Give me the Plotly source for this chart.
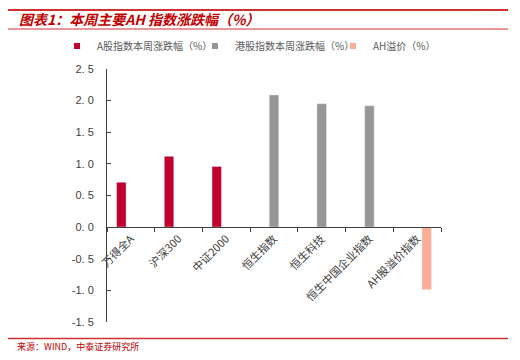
import plotly.graph_objects as go

categories = ["万得全A", "沪深300", "中证2000", "恒生指数", "恒生科技", "恒生中国企业指数", "AH股溢价指数"]
a_share = [0.71, 1.12, 0.96, None, None, None, None]
hk_share = [None, None, None, 2.09, 1.95, 1.92, None]
ah_premium = [None, None, None, None, None, None, -0.99]
y_ticks = [-1.5, -1.0, -0.5, 0.0, 0.5, 1.0, 1.5, 2.0, 2.5]
y_labels = ["-1. 5", "-1. 0", "-0. 5", "0. 0", "0. 5", "1. 0", "1. 5", "2. 0", "2. 5"]

names = ["A股指数本周涨跌幅（%）", "港股指数本周涨跌幅（%）", "AH溢价（%）"]
colors = ["#C00030", "#969696", "#FAAE98"]
legend_ids = ["legend", "legend2", "legend3"]
legend_x = [57, 195, 333]

fig = go.Figure()
for vals, nm, col in zip([a_share, hk_share, ah_premium], names, colors):
    fig.add_bar(x=categories, y=vals, name=nm, marker_color=col, showlegend=False)
for nm, col, lid in zip(names, colors, legend_ids):
    fig.add_scatter(x=[None], y=[None], mode="markers", name=nm, legend=lid,
                    marker=dict(symbol="square", size=6, color=col))

legend_common = dict(orientation="h", xref="container", yref="container", xanchor="left",
                     y=1 - 46/360, yanchor="middle", font=dict(size=10, color="#595959"),
                     itemwidth=30, bgcolor="rgba(0,0,0,0)")

red = "#C00000"
fig.update_layout(
    width=520, height=360,
    margin=dict(l=107, r=79, t=69, b=38, autoexpand=False),
    paper_bgcolor="white", plot_bgcolor="white",
    barmode="group", bargap=0.4, bargroupgap=0,
    font=dict(family="Noto Sans CJK SC, Arial", color="#404040"),
    showlegend=True,
    legend=dict(x=legend_x[0]/520, **legend_common),
    legend2=dict(x=legend_x[1]/520, **legend_common),
    legend3=dict(x=legend_x[2]/520, **legend_common),
    xaxis=dict(anchor="free", position=1.5 / 4, showline=True, linecolor="#404040", linewidth=1,
               ticks="outside", ticklen=4, tickcolor="#404040", tickson="boundaries",
               tickangle=-45, tickfont=dict(size=11, color="#404040", family="Noto Sans CJK SC"),
               showgrid=False, automargin=False, fixedrange=True),
    yaxis=dict(range=[-1.5, 2.5], tickvals=y_ticks, ticktext=y_labels, showline=True,
               linecolor="#404040", linewidth=1, ticks="inside", ticklen=4, tickcolor="#404040",
               tickfont=dict(size=11, color="#404040", family="Arial"), showgrid=False,
               zeroline=False, automargin=False, ticklabelstandoff=10, fixedrange=True),
    shapes=[
        dict(type="line", xref="paper", yref="paper", x0=-99/334, x1=401/334, y0=1 + 59/253, y1=1 + 59/253,
             line=dict(color="#D03030", width=2)),
        dict(type="line", xref="paper", yref="paper", x0=-99/334, x1=401/334, y0=1 + 40/253, y1=1 + 40/253,
             line=dict(color="#D03030", width=1)),
        dict(type="line", xref="paper", yref="paper", x0=-99/334, x1=401/334, y0=-16.5/253, y1=-16.5/253,
             line=dict(color="#D03030", width=1.5)),
    ],
    annotations=[
        dict(text="<b><i>图表1：本周主要AH 指数涨跌幅（%）</i></b>", xref="paper", yref="paper",
             x=-90/334, y=1 + 50/253, xanchor="left", yanchor="middle", showarrow=False,
             font=dict(size=14, color=red, family="Noto Sans CJK SC")),
        dict(text="来源：WIND，中泰证券研究所", xref="paper", yref="paper",
             x=-92/334, y=-24/253, xanchor="left", yanchor="middle", showarrow=False,
             font=dict(size=9, color=red, family="Noto Sans CJK SC")),
    ],
)

fig.write_html("out.html", config={"displayModeBar": False},
               post_script="document.body.style.margin='0';")
